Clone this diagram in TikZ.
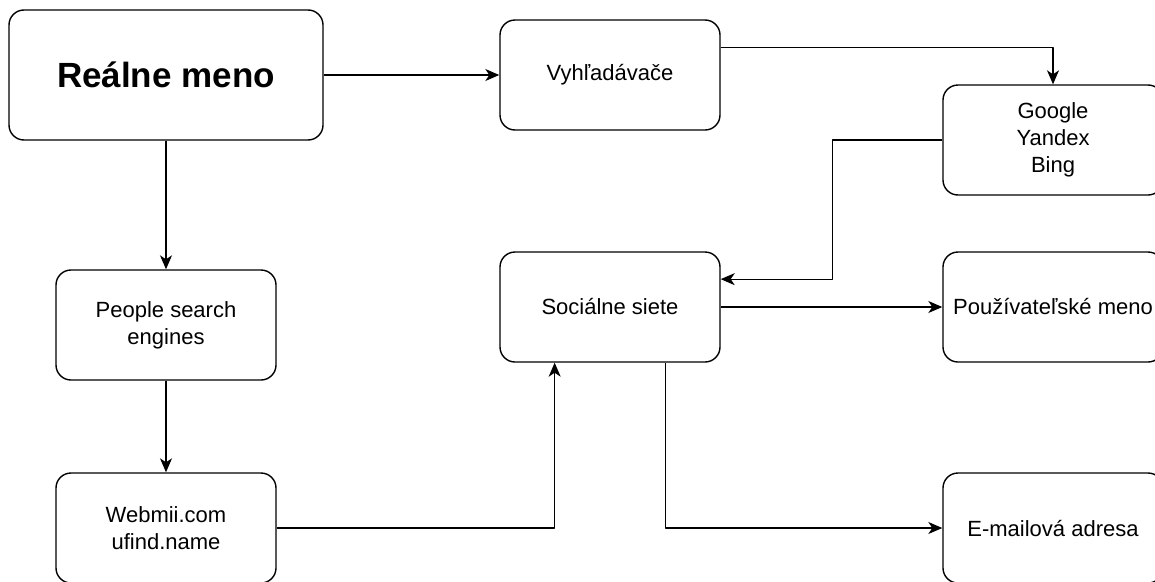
\documentclass[tikz,border=0pt]{standalone}
\usepackage{fontspec}
\setmainfont{Liberation Sans}
\usetikzlibrary{arrows.meta,calc}
\begin{document}
\begin{tikzpicture}[line join=round,>={Stealth[length=14pt,width=12pt,inset=4pt]},x=1pt,y=-1pt]
            \tikzset{box style/.style={draw,line width=1.4pt,rounded corners=15pt,minimum width=220pt,minimum height=110pt,align=center,font=\fontsize{22}{27}\selectfont,inner sep=0pt}}
            \tikzset{link style/.style={->,line width=1.3pt}}
            \def \picw{1155}
            \def \pich{581}
            \useasboundingbox (0,0) rectangle (\picw,\pich);
            \clip (0,0) rectangle (\picw,\pich);
            \node[box style,minimum width=314pt,minimum height=130pt,font=\bfseries\fontsize{35}{40}\selectfont] (real) at (166,75) {Reálne meno};
            \node[box style] (search) at (610,75) {Vyhľadávače};
            \node[box style] (engines) at (1053,140) {Google\\Yandex\\Bing};
            \node[box style] (people) at (166,325) {People search\\engines};
            \node[box style] (social) at (610,307) {Sociálne siete};
            \node[box style] (user) at (1053,307) {Používateľské meno};
            \node[box style] (webmii) at (166,528) {Webmii.com\\ufind.name};
            \node[box style] (email) at (1053,528) {E-mailová adresa};
            \draw[link style] (real.east)--(search.west);
            \draw[link style] ($(search.north east)!.25!(search.south east)$) -| (engines.north);
            \draw[link style] (engines.west)--++(-110,0) |- ($(social.north east)!.25!(social.south east)$);
            \draw[link style] (real.south)--(people.north);
            \draw[link style] (people.south)--(webmii.north);
            \draw[link style] (webmii.east) -| ($(social.south west)!.25!(social.south east)$);
            \draw[link style] (social.east)--(user.west);
            \draw[link style] ($(social.south west)!.75!(social.south east)$) |- (email.west);
        \end{tikzpicture}
\end{document}
